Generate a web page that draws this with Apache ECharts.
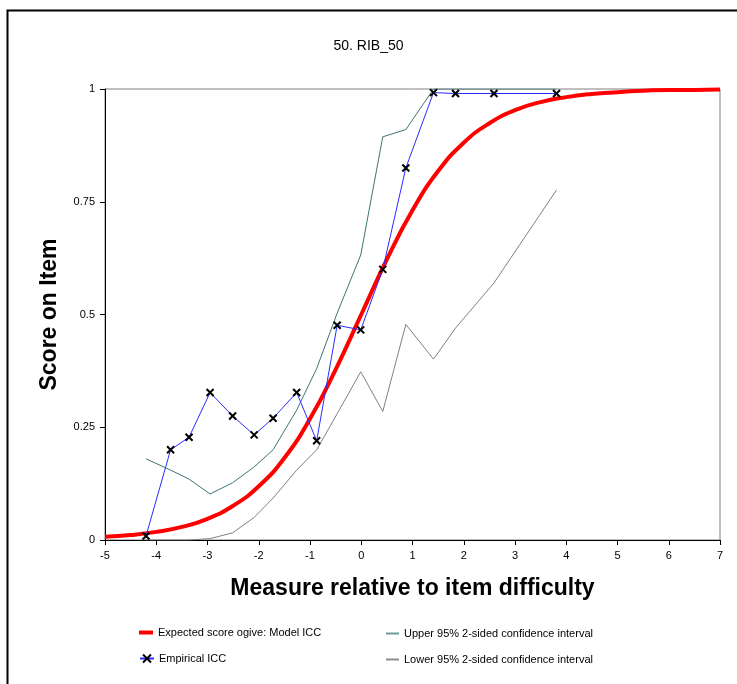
<!DOCTYPE html>
<html><head><meta charset="utf-8">
<script src="https://cdn.jsdelivr.net/npm/echarts@6/dist/echarts.min.js"></script>
<style>html,body{margin:0;padding:0;background:#fff;}#c{width:737px;height:684px;}</style>
</head><body><div id="c"></div>
<script>
var xTicks = [-5,-4,-3,-2,-1,0,1,2,3,4,5,6,7];
var yTickLabels = ['0','0.25','0.5','0.75','1'];
var modelX = [-5,-4.5,-4,-3.5,-3,-2.5,-2,-1.5,-1,-0.5,0,0.5,1,1.5,2,2.5,3,3.5,4,4.5,5,5.5,6,6.5,7];
var modelY = [0.007,0.011,0.018,0.029,0.047,0.076,0.119,0.182,0.269,0.378,0.5,0.622,0.731,0.818,0.881,0.924,0.953,0.971,0.982,0.989,0.993,0.996,0.998,0.998,0.999];
var empX = [-4.2,-3.72,-3.36,-2.95,-2.51,-2.09,-1.72,-1.26,-0.87,-0.47,-0.01,0.42,0.87,1.41,1.84,2.59,3.81];
var empY = [0.009,0.2,0.228,0.327,0.275,0.233,0.27,0.327,0.22,0.476,0.466,0.6,0.825,0.992,0.99,0.99,0.99];
var upperY = [0.18,0.155,0.135,0.102,0.127,0.162,0.2,0.288,0.38,0.503,0.632,0.894,0.91,1.0,1.0,1.0,1.0];
var lowerY = [0,0,0,0.003,0.016,0.05,0.093,0.155,0.2,0.28,0.373,0.285,0.478,0.401,0.47,0.57,0.776];

function pairs(xs, ys){ return xs.map(function(x,i){ return [x, ys[i]]; }); }

var FONT = 'Liberation Sans, Arial, sans-serif';
var LT = {fontFamily:FONT, fontSize:11, color:'#000'};
var chart = echarts.init(document.getElementById('c'), null, {renderer:'canvas'});
var xSym = 'path://M0,0L10,10M10,0L0,10';
chart.setOption({
  animation:false,
  backgroundColor:'#fff',
  graphic:[{type:'rect', left:5, top:8, shape:{x:0,y:0,width:800,height:720}, style:{fill:'none', stroke:'#000', lineWidth:2}, z:-1}],
  title:{text:'50. RIB_50', left:'center', top:39, textStyle:{fontFamily:FONT, fontSize:14, fontWeight:'normal', color:'#000'}, padding:0},
  grid:{left:105, top:89, right:17, bottom:144, show:true, borderColor:'#808080', borderWidth:1, backgroundColor:'#fff'},
  legend:[
    {data:[{name:'Expected score ogive: Model ICC', icon:'rect'}], left:139, top:627, itemWidth:14, itemHeight:4, itemGap:5, textStyle:LT, padding:0},
    {data:['Empirical ICC'], left:139, top:653, itemWidth:14, itemHeight:10, textStyle:LT, padding:0},
    {data:[{name:'Upper 95% 2-sided confidence interval', icon:'rect'},{name:'Lower 95% 2-sided confidence interval', icon:'rect'}],
     orient:'vertical', left:386, top:628, itemGap:15, itemWidth:13, itemHeight:2, textStyle:LT, padding:0}
  ],
  xAxis:{type:'value', min:-5, max:7, interval:1,
    name:'Measure relative to item difficulty', nameLocation:'middle', nameGap:37,
    nameTextStyle:{fontFamily:FONT, fontSize:23, fontWeight:'bold', color:'#000'},
    axisLine:{onZero:false, lineStyle:{color:'#000', width:1}}, axisTick:{show:true, length:5, lineStyle:{color:'#000'}},
    axisLabel:{fontFamily:FONT, fontSize:11, color:'#000', margin:10, formatter:function(v){return xTicks.indexOf(v)>=0? String(v):'';}},
    splitLine:{show:false}},
  yAxis:{type:'value', min:0, max:1, interval:0.25,
    name:'Score on Item', nameLocation:'middle', nameGap:44, nameRotate:90,
    nameTextStyle:{fontFamily:FONT, fontSize:23, fontWeight:'bold', color:'#000'},
    axisLine:{show:true, onZero:false, lineStyle:{color:'#000', width:1}}, axisTick:{show:true, length:5, lineStyle:{color:'#000'}},
    axisLabel:{fontFamily:FONT, fontSize:11, color:'#000', margin:10, formatter:function(v){ return yTickLabels[Math.round(v/0.25)]; }},
    splitLine:{show:false}},
  series:[
    {name:'Upper 95% 2-sided confidence interval', type:'line', data:pairs(empX, upperY), showSymbol:false, symbol:'none',
     lineStyle:{color:'#3d7575', width:1}, itemStyle:{color:'#6a9a9a'}, z:2},
    {name:'Lower 95% 2-sided confidence interval', type:'line', data:pairs(empX, lowerY), showSymbol:false, symbol:'none',
     lineStyle:{color:'#808080', width:1}, itemStyle:{color:'#8c8c8c'}, z:2},
    {name:'Expected score ogive: Model ICC', type:'line', data:pairs(modelX, modelY), smooth:true, showSymbol:false, symbol:'none',
     lineStyle:{color:'#ff0000', width:4}, itemStyle:{color:'#ff0000'}, z:3},
    {name:'Empirical ICC', type:'line', data:pairs(empX, empY), symbol:xSym, symbolSize:7,
     lineStyle:{color:'#2a2aff', width:1}, itemStyle:{color:'#000', borderColor:'#000', borderWidth:2}, z:4}
  ]
});
</script></body></html>
